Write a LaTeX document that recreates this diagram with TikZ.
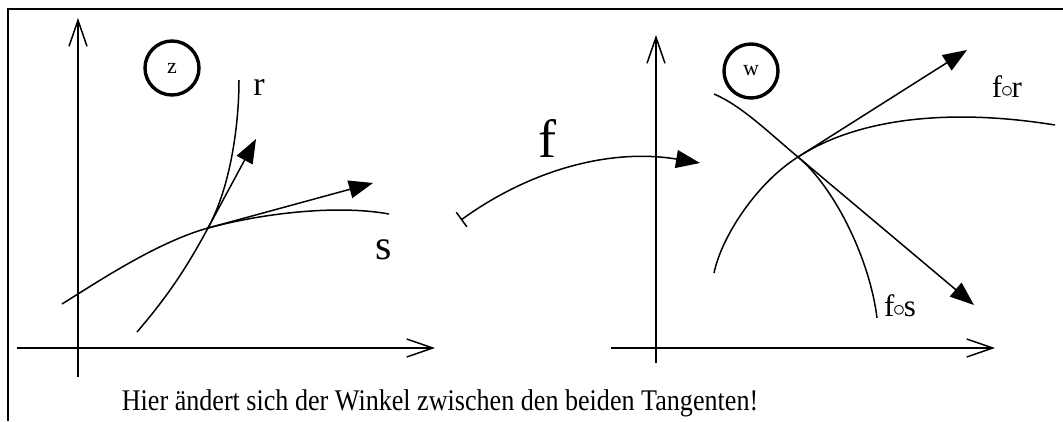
\documentclass[tikz,border=0pt]{standalone}
\usepackage{graphicx}
\usepackage{fontspec}
\setmainfont{Liberation Serif}
\usetikzlibrary{arrows.meta, positioning}

\begin{document}
\begin{tikzpicture}[x=1pt, y=-1pt,
  axis/.style={line width=1.5pt, -{Straight Barb[length=26pt,width=18pt]}},
  curve/.style={line width=1.5pt},
  tangent/.style={line width=1.5pt, -{Triangle[length=24pt,width=18pt]}},
  plane/.style={circle, draw, line width=3.4pt, minimum size=54pt, inner sep=0pt,
    font=\fontsize{22}{22}\selectfont},
  lbl/.style={inner sep=0pt}]
  \useasboundingbox (0,0) rectangle (1063,421);
  \draw[line width=2pt] (8,421) -- (8,9) -- (1063,9);

  % z-Ebene
  \coordinate (zxl) at (17,348);
  \coordinate (zxr) at (435,348);
  \coordinate (zyb) at (78,377);
  \coordinate (zyt) at (78,18);
  \draw[axis] (zxl) -- (zxr);
  \draw[axis] (zyb) -- (zyt);
  \node[plane] (z) at (172,68) {z};

  \coordinate (p) at (208,228);
  \coordinate (r0) at (137,332);
  \coordinate (r1) at (239,80);
  \coordinate (s0) at (62,304);
  \coordinate (s1) at (389,214);
  \draw[curve] (r0) .. controls (167,297) and (186,269) .. (p)
    .. controls (232,184) and (239,120) .. (r1);
  \draw[curve] (s0) .. controls (102,279) and (158,242) .. (p)
    .. controls (268,212) and (340,205) .. (s1);
  \coordinate (tr) at (256,139);
  \coordinate (ts) at (373,183);
  \draw[tangent] (p) -- (tr);
  \draw[tangent] (p) -- (ts);
  \node[lbl, font=\fontsize{34}{34}\selectfont] (rlabel) at (259,87) {r};
  \node[lbl, font=\fontsize{42}{42}\selectfont] (slabel) at (384,250) {s};

  % Abbildung f
  \coordinate (f0) at (461,220);
  \coordinate (f1) at (700,163);
  \draw[line width=1.5pt, {Bar[width=18pt]}-{Triangle[length=24pt,width=18pt]}]
    (f0) .. controls (530,170) and (610,148) .. (f1);
  \node[lbl, font=\fontsize{54}{54}\selectfont] (flabel) at (547,138) {f};

  % w-Ebene
  \coordinate (wxl) at (611,348);
  \coordinate (wxr) at (995,348);
  \coordinate (wyb) at (656,363);
  \coordinate (wyt) at (656,35);
  \draw[axis] (wxl) -- (wxr);
  \draw[axis] (wyb) -- (wyt);
  \node[plane] (w) at (751,71) {w};

  \coordinate (q) at (798,157);
  \coordinate (fs0) at (714,94);
  \coordinate (fs1) at (877,318);
  \coordinate (fr0) at (714,273);
  \coordinate (fr1) at (1055,125);
  \draw[curve] (fs0) .. controls (742,106) and (768,132) .. (q)
    .. controls (835,188) and (870,260) .. (fs1);
  \draw[curve] (fr0) .. controls (722,235) and (758,182) .. (q)
    .. controls (858,118) and (950,108) .. (fr1);
  \coordinate (tfr) at (967,50);
  \coordinate (tfs) at (974,305);
  \draw[tangent] (q) -- (tfr);
  \draw[tangent] (q) -- (tfs);
  \node[lbl, font=\fontsize{31}{31}\selectfont] (frlabel) at (1007,87)
    {f\kern-1.5pt$\circ$\kern-1.5pt r};
  \node[lbl, font=\fontsize{31}{31}\selectfont] (fslabel) at (900,306)
    {f\kern-1.5pt$\circ$\kern-1.5pt s};

  \node[font=\fontsize{30}{30}\selectfont, anchor=base] (caption) at (440,410)
    {\scalebox{0.87}[1]{Hier ändert sich der Winkel zwischen den beiden Tangenten!}};
\end{tikzpicture}
\end{document}
